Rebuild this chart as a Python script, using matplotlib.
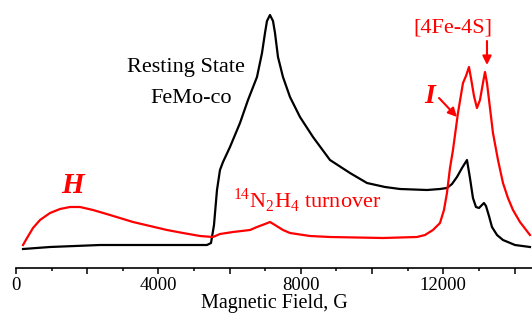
import matplotlib
matplotlib.use("Agg")
import matplotlib.pyplot as plt
from matplotlib.ticker import MultipleLocator, FuncFormatter

plt.rcParams['font.family'] = ['Liberation Serif', 'DejaVu Serif']
plt.rcParams['mathtext.fontset'] = 'custom'
plt.rcParams['mathtext.rm'] = 'Liberation Serif'

# Resting-state FeMo-co spectrum (black)
black_field = [197, 955, 2359, 5363, 5476, 5560, 5644, 5728, 5813, 6009, 6290, 6515, 6767,
               6908, 6992, 7048, 7132, 7217, 7273, 7357, 7497, 7694, 7975, 8340, 8817,
               9379, 9856, 10362, 10783, 11541, 11906, 12102, 12243, 12383, 12524, 12664,
               12748, 12832, 12917, 13001, 13085, 13141, 13198, 13282, 13366, 13507, 13675,
               14012, 14433]
black_signal = [19, 21, 23, 23, 25, 43, 78, 98, 106, 121, 145, 168, 191,
                215, 235, 247, 253, 247, 235, 211, 191, 171, 151, 131, 108,
                95, 85, 81, 79, 78, 79, 80, 84, 91, 100, 108,
                90, 70, 61, 60, 63, 65, 62, 52, 41, 33, 28,
                23, 21]

# 14N2H4 turnover spectrum (red)
red_field = [197, 309, 477, 674, 955, 1236, 1516, 1797, 2162, 2640, 3285, 3763, 4240, 4689,
             5167, 5532, 5728, 6093, 6571, 6767, 6992, 7132, 7273, 7497, 7694, 8256, 8817,
             10305, 11260, 11485, 11709, 11906, 12018, 12102, 12187, 12271, 12411, 12552,
             12636, 12720, 12776, 12861, 12944, 13029, 13113, 13170, 13226, 13310, 13394,
             13535, 13675, 13815, 13956, 14152, 14433]
red_signal = [23, 30, 40, 48, 55, 59, 61, 61, 58, 53, 46, 42, 38, 35,
              32, 31, 34, 36, 38, 41, 44, 46, 43, 38, 35, 32, 31,
              30, 31, 33, 38, 45, 58, 75, 100, 118, 155, 185,
              192, 201, 190, 172, 160, 168, 185, 196, 185, 160, 135,
              108, 85, 70, 58, 46, 33]

x_ticks_labeled = [0, 4000, 8000, 12000]
x_label = "Magnetic Field, G"

fig = plt.figure(figsize=(5.32, 3.17), dpi=100)
ax = fig.add_axes([16/532, 49/317, 516/532, 268/317])

ax.plot(black_field, black_signal, color='black', lw=1.6, solid_joinstyle='round')
ax.plot(red_field, red_signal, color='#ff0000', lw=1.6, solid_joinstyle='round')

ax.set_xlim(0, 14490)
ax.set_ylim(0, 268)

for s in ['top', 'right', 'left']:
    ax.spines[s].set_visible(False)
ax.spines['bottom'].set_linewidth(1.2)
ax.set_yticks([])

ax.xaxis.set_major_locator(MultipleLocator(2000))
ax.xaxis.set_minor_locator(MultipleLocator(1000))
ax.xaxis.set_major_formatter(FuncFormatter(
    lambda v, p: f"{int(v)}" if int(round(v)) in x_ticks_labeled else ""))
ax.tick_params(axis='x', which='major', direction='out', length=4.5, width=1.1,
               labelsize=13.5, pad=2)
ax.tick_params(axis='x', which='minor', direction='out', length=2.5, width=1.1)
ax.set_xlabel(x_label, fontsize=14.5, labelpad=0)

ax.text(3117, 196, "Resting State", fontsize=16, color='black', va='baseline', ha='left')
ax.text(3763, 165, "FeMo-co", fontsize=16, color='black', va='baseline', ha='left')
ax.text(6093, 60, r"$^{14}$N$_{2}$H$_{4}$ turnover", fontsize=16, color='#ff0000',
        va='baseline', ha='left')
ax.text(12271, 235, "[4Fe-4S]", fontsize=16, color='#ff0000', va='baseline', ha='center')
ax.text(1600, 75, "H", fontsize=21, color='#ff0000', fontweight='bold', fontstyle='italic',
        va='baseline', ha='center')
ax.text(11625, 165, "I", fontsize=20, color='#ff0000', fontweight='bold', fontstyle='italic',
        va='baseline', ha='center')

ax.annotate("", xy=(13226, 203), xytext=(13226, 227),
            arrowprops=dict(arrowstyle='-|>', color='#ff0000', lw=1.5, mutation_scale=13,
                            shrinkA=0, shrinkB=0))
ax.annotate("", xy=(12383, 151), xytext=(11880, 170),
            arrowprops=dict(arrowstyle='-|>', color='#ff0000', lw=1.5, mutation_scale=13,
                            shrinkA=0, shrinkB=0))

fig.savefig("out.png", dpi=100)
